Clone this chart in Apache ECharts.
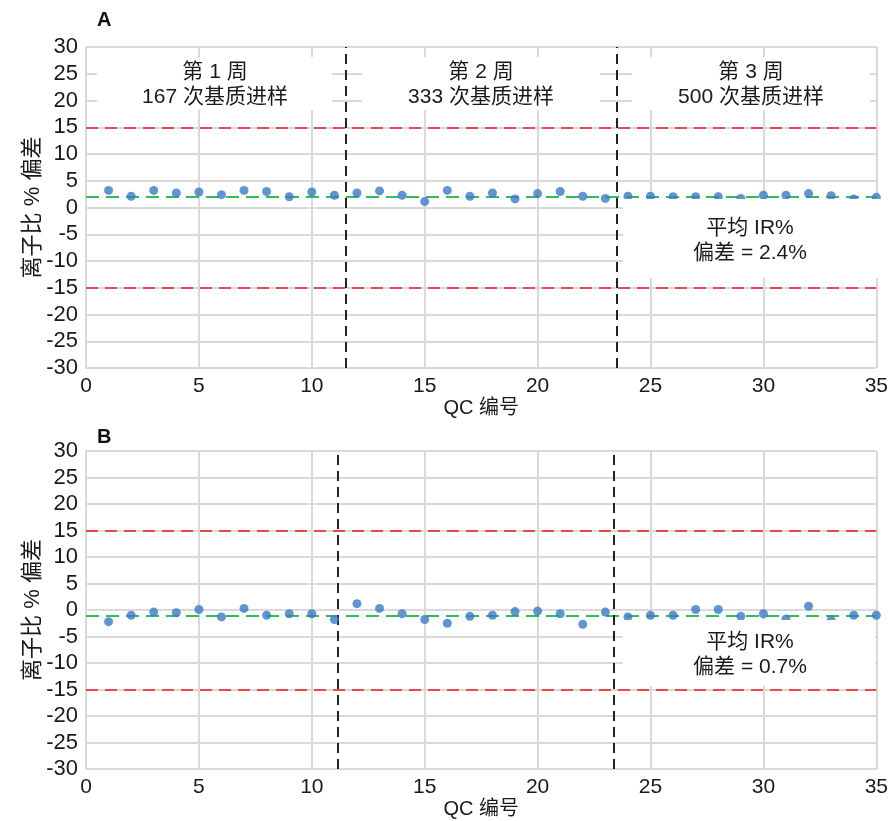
<!DOCTYPE html>
<html>
<head>
<meta charset="utf-8">
<title>QC 离子比偏差</title>
<script src="https://cdn.jsdelivr.net/npm/echarts@6/dist/echarts.min.js"></script>
<style>
  html, body { margin: 0; padding: 0; background: #fff; }
  #chart { width: 891px; height: 821px; }
</style>
</head>
<body>
<div id="chart"></div>
<script>
// QC 编号 1..35
const qcIds = [1, 2, 3, 4, 5, 6, 7, 8, 9, 10, 11, 12, 13, 14, 15, 16, 17, 18,
  19, 20, 21, 22, 23, 24, 25, 26, 27, 28, 29, 30, 31, 32, 33, 34, 35];

// 面板 A 离子比 % 偏差
const biasA = [3.2, 2.1, 3.2, 2.7, 2.9, 2.4, 3.2, 3.0, 2.0, 2.9, 2.3, 2.7,
  3.1, 2.3, 1.1, 3.2, 2.1, 2.7, 1.6, 2.6, 3.0, 2.1, 1.7, 2.1, 2.1, 2.0, 2.0,
  2.0, 1.7, 2.3, 2.3, 2.6, 2.2, 1.6, 1.9];

// 面板 B 离子比 % 偏差
const biasB = [-2.2, -1.0, -0.4, -0.5, 0.1, -1.3, 0.3, -1.0, -0.7, -0.7, -1.8,
  1.2, 0.3, -0.7, -1.8, -2.5, -1.2, -1.0, -0.3, -0.2, -0.7, -2.7, -0.4, -1.3,
  -1.0, -1.0, 0.1, 0.1, -1.2, -0.7, -1.7, 0.7, -1.9, -1.0, -1.0];

const limits = [15, -15];          // 红色控制限
const meanLineA = 2.0;             // 绿色均值线
const meanLineB = -1.0;
const weekBreaksA = [11.5, 23.5];  // 周分隔线
const weekBreaksB = [11.15, 23.35];

const weekLabels = ["第 1 周\n167 次基质进样", "第 2 周\n333 次基质进样", "第 3 周\n500 次基质进样"];
const meanLabelA = "平均 IR%\n偏差 = 2.4%";
const meanLabelB = "平均 IR%\n偏差 = 0.7%";

const FONT = "'Liberation Sans', 'Noto Sans CJK SC', sans-serif";
const gridColor = "#d9d9d9";
const red = "#e8474d";
const green = "#2fbd58";
const blue = "#3a7bc6";

const chart = echarts.init(document.getElementById("chart"));

function xAxisFor(idx) {
  return {
    gridIndex: idx,
    type: "value",
    min: 0,
    max: 35,
    interval: 5,
    name: "QC 编号",
    nameLocation: "middle",
    nameGap: 30,
    nameMoveOverlap: false,
    nameTextStyle: { fontSize: 20, color: "#1a1a1a", fontFamily: FONT },
    axisLine: { show: true, lineStyle: { color: gridColor, width: 2 } },
    axisTick: { show: false },
    axisLabel: { fontSize: 21, color: "#1a1a1a", fontFamily: FONT, margin: 8 },
    splitLine: { show: true, lineStyle: { color: gridColor, width: 2 } },
  };
}

function yAxisFor(idx) {
  return {
    gridIndex: idx,
    type: "value",
    min: -30,
    max: 30,
    interval: 5,
    name: "离子比 % 偏差",
    nameLocation: "middle",
    nameGap: 42,
    nameMoveOverlap: false,
    nameTextStyle: { fontSize: 22, color: "#1a1a1a", fontFamily: FONT },
    axisLine: { show: true, lineStyle: { color: gridColor, width: 2 } },
    axisTick: { show: false },
    axisLabel: { fontSize: 22, color: "#1a1a1a", fontFamily: FONT, margin: 8 },
    splitLine: { show: true, lineStyle: { color: gridColor, width: 2 } },
  };
}

function refLines(mean, breaks) {
  const data = [];
  limits.forEach((v) => {
    data.push({ yAxis: v, lineStyle: { color: red, type: [12, 7], width: 2 } });
  });
  data.push({ yAxis: mean, lineStyle: { color: green, type: [13, 7], width: 2.2 } });
  breaks.forEach((v) => {
    data.push({ xAxis: v, lineStyle: { color: "#222", type: [10, 6], width: 2 } });
  });
  return {
    silent: true,
    symbol: "none",
    z: 1,
    label: { show: false },
    emphasis: { disabled: true },
    data: data,
  };
}

function pointsFor(values) {
  return qcIds.map((id, i) => [id, values[i]]);
}

const boxText = (x, y, text) => ({
  type: "text",
  x: x,
  y: y,
  z: 101,
  style: {
    text: text,
    fontSize: 21,
    fontFamily: FONT,
    fill: "#1a1a1a",
    align: "center",
    verticalAlign: "middle",
    lineHeight: 25,
  },
});
const whiteBox = (x, y, w, h) => ({
  type: "rect",
  z: 100,
  shape: { x: x, y: y, width: w, height: h },
  style: { fill: "#fff" },
});

const option = {
  animation: false,
  textStyle: { fontFamily: FONT },
  title: [
    { text: "A", left: 92, top: 5, textStyle: { fontSize: 20, fontWeight: "bold", color: "#111" } },
    { text: "B", left: 92, top: 422, textStyle: { fontSize: 20, fontWeight: "bold", color: "#111" } },
  ],
  grid: [
    { left: 86, top: 47, width: 796, height: 321 },
    { left: 86, top: 451, width: 791, height: 318 },
  ],
  xAxis: [xAxisFor(0), xAxisFor(1)],
  yAxis: [yAxisFor(0), yAxisFor(1)],
  series: [
    {
      type: "scatter",
      xAxisIndex: 0,
      yAxisIndex: 0,
      z: 3,
      symbolSize: 9,
      itemStyle: { color: blue },
      data: pointsFor(biasA),
      markLine: refLines(meanLineA, weekBreaksA),
    },
    {
      type: "scatter",
      xAxisIndex: 1,
      yAxisIndex: 1,
      z: 3,
      symbolSize: 9,
      itemStyle: { color: blue },
      data: pointsFor(biasB),
      markLine: refLines(meanLineB, weekBreaksB),
    },
  ],
  graphic: [
    whiteBox(97, 57, 235, 53),
    whiteBox(362, 57, 238, 53),
    whiteBox(632, 57, 238, 53),
    boxText(215, 85, weekLabels[0]),
    boxText(481, 85, weekLabels[1]),
    boxText(751, 85, weekLabels[2]),
    whiteBox(623, 199, 257, 79),
    boxText(750, 241, meanLabelA),
    whiteBox(623, 620, 252, 66),
    boxText(750, 655, meanLabelB),
  ],
};

chart.setOption(option);
</script>
</body>
</html>
